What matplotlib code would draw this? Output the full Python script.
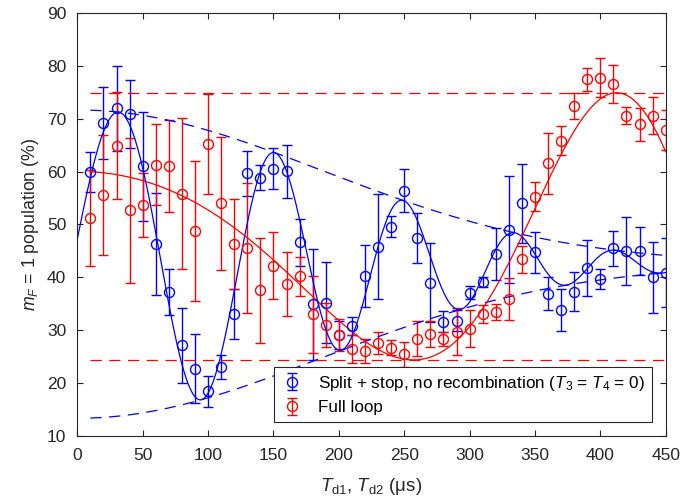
import numpy as np
import matplotlib
matplotlib.use("Agg")
import matplotlib.pyplot as plt
from matplotlib.legend_handler import HandlerErrorbar

plt.rcParams['font.family'] = ['Liberation Sans', 'DejaVu Sans']
plt.rcParams['mathtext.fontset'] = 'custom'
plt.rcParams['mathtext.rm'] = 'Liberation Sans'
plt.rcParams['mathtext.it'] = 'Liberation Sans:italic'
plt.rcParams['mathtext.bf'] = 'Liberation Sans:bold'

# ---------------- data ----------------
t_delay = [10, 20, 30, 40, 50, 60, 70, 80, 90, 100, 110, 120, 130, 140, 150,
           160, 170, 180, 190, 200, 210, 220, 230, 240, 250, 260, 270, 280,
           290, 300, 310, 320, 330, 340, 350, 360, 370, 380, 390, 400, 410,
           420, 430, 440, 450]

split_stop = [59.9, 69.2, 72.0, 70.9, 61.0, 46.3, 37.2, 27.1, 22.7, 18.4,
              23.0, 33.0, 59.7, 58.9, 60.6, 60.1, 46.6, 34.9, 35.2, 29.1,
              30.8, 40.2, 45.8, 49.6, 56.4, 47.5, 39.0, 31.6, 31.8, 37.1,
              39.1, 44.4, 49.0, 54.0, 44.7, 36.9, 33.8, 37.3, 41.8, 39.6,
              45.5, 45.0, 45.0, 40.0, 40.9]
split_stop_err = [3.8, 6.8, 8.1, 6.5, 10.4, 9.7, 4.3, 7.1, 6.5, 3.0,
                  2.3, 4.7, 4.3, 2.3, 3.8, 5.0, 4.5, 10.5, 7.7, 2.6,
                  1.7, 5.9, 10.0, 2.0, 4.1, 4.7, 7.5, 2.0, 2.0, 1.2,
                  1.0, 4.9, 10.1, 7.5, 3.9, 3.1, 4.0, 3.7, 5.3, 1.9,
                  3.3, 6.4, 4.6, 6.7, 6.5]

full_loop = [51.2, 55.6, 64.9, 52.7, 53.7, 61.3, 61.1, 55.8, 48.8, 65.2,
             54.0, 46.3, 45.5, 37.5, 42.2, 38.7, 40.2, 33.0, 31.0, 29.1,
             26.4, 26.1, 27.6, 26.7, 25.4, 28.4, 29.3, 28.3, 29.7, 30.3,
             33.1, 33.5, 35.9, 43.4, 55.3, 61.6, 65.9, 72.4, 77.5, 77.8,
             76.7, 70.6, 69.0, 70.6, 67.9]
full_loop_err = [9.1, 11.4, 10.1, 13.7, 6.0, 7.7, 8.7, 14.3, 13.3, 9.5,
                 12.6, 8.5, 12.3, 10.0, 6.4, 6.0, 3.7, 7.3, 4.2, 3.0,
                 2.7, 2.3, 2.1, 1.5, 2.3, 3.3, 2.5, 1.4, 4.4, 3.5,
                 1.7, 1.5, 4.0, 2.5, 2.8, 5.8, 2.7, 2.5, 2.2, 3.7,
                 3.6, 1.6, 3.1, 3.5, 3.8]

# fit parameters
blue_offset, blue_amp, blue_tau = 42.5, 29.2, 265.0
blue_f0, blue_chirp, blue_phase0 = 0.00683, 1.67e-5, -0.224   # cycles
red_offset, red_amp = 49.65, 25.3
red_phase0, red_chirp = 1.146, 3.02e-5                       # radians

xticks = [0, 50, 100, 150, 200, 250, 300, 350, 400, 450]
yticks = [10, 20, 30, 40, 50, 60, 70, 80, 90]

# ---------------- figure ----------------
fig = plt.figure(figsize=(6.83, 5.0), dpi=100)
ax = fig.add_axes([0.1132, 0.1286, 0.8615, 0.8448])

eb_kw = dict(fmt='o', mfc='none', ms=7.2, mew=1.0, elinewidth=1.0,
             capsize=3.6, capthick=1.0)
h1 = ax.errorbar(t_delay, split_stop, yerr=split_stop_err, color='#0000ff',
                 label='Split + stop, no recombination ($T_3$ = $T_4$ = 0)', **eb_kw)
h2 = ax.errorbar(t_delay, full_loop, yerr=full_loop_err, color='#ff0000',
                 label='Full loop', **eb_kw)

# fit curves
tf = np.linspace(0, 450, 900)
env = blue_amp * np.exp(-(tf / blue_tau) ** 2)
cyc = blue_f0 * tf + 0.5 * blue_chirp * tf ** 2 + blue_phase0
ax.plot(tf, blue_offset + env * np.cos(2 * np.pi * cyc), color='#0000ff', lw=0.9)

te = np.linspace(t_delay[0], t_delay[-1], 600)
enve = blue_amp * np.exp(-(te / blue_tau) ** 2)
for s in (1, -1):
    ln, = ax.plot(te, blue_offset + s * enve, color='#0000ff', lw=0.9)
    ln.set_dashes((9, 6))

red_fit = red_offset + red_amp * np.cos(red_phase0 + red_chirp * te ** 2)
ax.plot(te, red_fit, color='#ff0000', lw=0.9)
for s in (1, -1):
    ln, = ax.plot([te[0], te[-1]], [red_offset + s * red_amp] * 2,
                  color='#ff0000', lw=0.9)
    ln.set_dashes((9, 6))

ax.set_xlim(0, 450)
ax.set_ylim(10, 90)
ax.set_xticks(xticks)
ax.set_yticks(yticks)
ax.tick_params(direction='in', length=4, width=0.8, top=True, right=True,
               labelsize=12.5, colors='#262626')
ax.tick_params(axis='x', pad=9)
ax.tick_params(axis='y', pad=8)
for sp in ax.spines.values():
    sp.set_color('#262626')
    sp.set_linewidth(0.8)

ax.set_xlabel(r'$T_{\mathrm{d1}}$, $T_{\mathrm{d2}}$ (μs)', fontsize=13.5,
              color='#262626', labelpad=9)
ax.set_ylabel(r'$m_F$ = 1 population (%)', fontsize=12.8, color='#262626',
              labelpad=4)

leg = ax.legend(handles=[h1, h2], loc='lower right',
                bbox_to_anchor=(0.977, 0.0317), fontsize=12.3, frameon=True,
                fancybox=False, framealpha=1, edgecolor='#262626',
                borderpad=0.4, labelspacing=0.45, handlelength=1.3,
                handletextpad=0.9, borderaxespad=0,
                handler_map={type(h1): HandlerErrorbar(xerr_size=0.5)})
leg.get_frame().set_linewidth(0.8)

fig.savefig('out.png', dpi=100)
